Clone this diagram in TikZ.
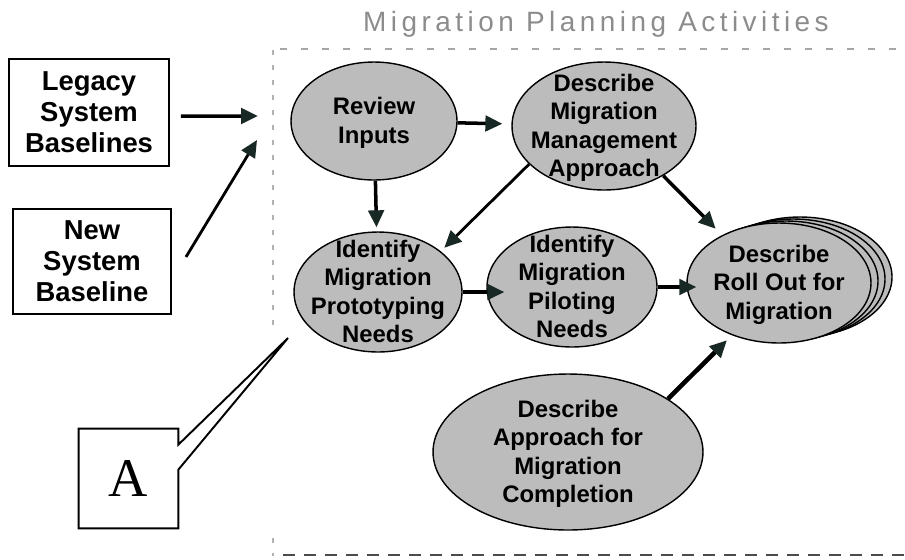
\documentclass[tikz,border=0pt]{standalone}
\usepackage{fontspec}
\setmainfont{Liberation Sans}
\newfontfamily\titlefont{Liberation Sans}[LetterSpace=16]
\newfontfamily\letterfont{Liberation Serif}
\usetikzlibrary{arrows.meta,calc,shapes.geometric}

\definecolor{bubblegray}{RGB}{188,188,188}
\definecolor{tipgreen}{RGB}{24,40,36}
\definecolor{titlegray}{RGB}{140,140,140}

% text of an activity, kept out of the ellipse size
\newcommand{\bub}[1]{\makebox[0pt]{\smash{\raisebox{-0.36em}{\begin{tabular}{@{}c@{}}#1\end{tabular}}}}}

\tikzset{
  inbox/.style={draw, line width=1.1pt, align=center, minimum width=3.2cm,
    minimum height=2.14cm, font=\bfseries\fontsize{15.6pt}{17.7pt}\selectfont},
  activity/.style={ellipse, draw, fill=bubblegray, line width=0.8pt, inner sep=0pt,
    font=\bfseries\fontsize{13.6pt}{16.2pt}\selectfont},
  flow/.style={line width=2pt, -{Triangle[length=0.34cm,width=0.31cm,color=tipgreen]}},
}

\begin{document}
\begin{tikzpicture}[x=0.02cm,y=-0.02cm]
    \useasboundingbox (0,0) rectangle (905,559);

    \node[font=\titlefont\fontsize{15.9pt}{18pt}\selectfont, text=titlegray, anchor=base]
        (title) at (596,31) {Migration Planning Activities};

    % dashed frame
    \draw[gray!70, line width=0.8pt, dash pattern=on 0.14cm off 0.28cm] (280,49) -- (905,49);
    \draw[gray!60, line width=0.8pt, dash pattern=on 0.1cm off 0.2cm] (273,50) -- (273,325);
    \draw[gray!60, line width=0.8pt, dash pattern=on 0.1cm off 0.2cm] (273,538) -- (273,556);
    \draw[black!70, line width=1pt, dash pattern=on 0.24cm off 0.18cm] (283,555) -- (905,555);

    \node[inbox] (legacy) at (89,112.5) {Legacy\\System\\Baselines};
    \node[inbox, minimum width=3.16cm, minimum height=2.1cm] (newsys) at (92,261.5) {New\\System\\Baseline};

    \node[activity, minimum width=3.32cm, minimum height=2.36cm] (review) at (374,121) {\bub{Review\\Inputs}};
    \node[activity, minimum width=3.68cm, minimum height=2.56cm] (mgmt) at (604,126) {\bub{Describe\\Migration\\Management\\Approach}};
    \node[activity, minimum width=3.36cm, minimum height=2.4cm] (proto) at (378,292) {\bub{Identify\\Migration\\Prototyping\\Needs}};
    \node[activity, minimum width=3.4cm, minimum height=2.4cm] (pilot) at (572,287) {\bub{Identify\\Migration\\Piloting\\Needs}};

    \foreach \k in {3,2,1}
        \draw[fill=bubblegray, line width=0.8pt] (779+7*\k,283-2*\k) ellipse [x radius=92, y radius=60];
    \node[activity, minimum width=3.68cm, minimum height=2.4cm] (roll) at (779,283) {\bub{Describe\\Roll Out for\\Migration}};

    \node[activity, minimum width=5.4cm, minimum height=3.12cm] (compl) at (568,452) {\bub{Describe\\Approach for\\Migration\\Completion}};

    % callout A
    \node[minimum width=1.98cm, minimum height=1.98cm, font=\letterfont\fontsize{31pt}{31pt}\selectfont]
        (abox) at (128.5,478.5) {A};
    \coordinate (atip) at (288,338);
    \draw[line width=1.1pt] (abox.north west) -- (abox.north east) -- ($(abox.north east)+(0,16)$)
        -- (atip) -- ($(abox.north east)+(0,41)$) -- (abox.south east) -- (abox.south west) -- cycle;

    \coordinate (inL) at (258,116);
    \coordinate (inN) at (257,140);
    \draw[flow] ([shift={(11,3.5)}]legacy.east) -- (inL);
    \draw[flow, line width=1.6pt] ([shift={(14,-4.5)}]newsys.east) -- (inN);

    \draw[flow, shorten >=0.18cm] (review) -- (mgmt);
    \draw[flow, shorten >=0.08cm] (review) -- (proto);
    \draw[flow, line width=1.6pt, shorten >=0.1cm] (mgmt.207) -- (proto.33);
    \draw[flow, shorten >=0.18cm] (mgmt.-40) -- (roll.140);
    \draw[flow] (proto.east) -- ([xshift=0.36cm]proto.east -| pilot.west);
    \draw[flow] (pilot.east) -- ([xshift=0.2cm]pilot.east -| roll.west);
    \draw[flow, line width=2.6pt, shorten >=0.14cm] (compl.28) -- (roll.228);
\end{tikzpicture}
\end{document}
